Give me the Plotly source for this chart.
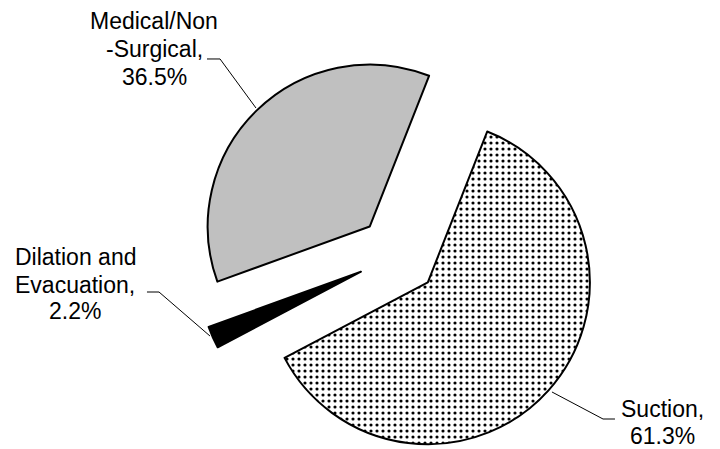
import math
import plotly.graph_objects as go

# data (clockwise from the first slice)
labels = ["Suction", "Dilation and Evacuation", "Medical/Non-Surgical"]
values = [61.3, 2.2, 36.5]
label_lines = [["Suction,", "61.3%"],
               ["Dilation and", "Evacuation,", "2.2%"],
               ["Medical/Non", "-Surgical,", "36.5%"]]

# the page body adds an 8px margin, so the figure is drawn 8px smaller
OFF = 8
W, H = 720 - OFF, 449 - OFF
fills = ["white", "black", "#c0c0c0"]
patterns = [".", "", ""]

# pie geometry (pixels in the final picture)
rotation = 21.5
cx0, cy0 = 397.8, 255.4
radius = 162
explode = 40.3


def px(x, y):
    return (x - OFF) / W, 1 - (y - OFF) / H


total = sum(values)
fig = go.Figure()

start = rotation
for i, v in enumerate(values):
    span = v / total * 360
    mid = math.radians(start + span / 2)
    start += span
    cx = cx0 + explode * math.sin(mid) - OFF
    cy = cy0 - explode * math.cos(mid) - OFF
    colors = ["rgba(0,0,0,0)"] * len(values)
    colors[i] = fills[i]
    widths = [0] * len(values)
    widths[i] = 2
    shapes = [""] * len(values)
    shapes[i] = patterns[i]
    fig.add_trace(go.Pie(
        labels=labels,
        values=values,
        sort=False,
        direction="clockwise",
        rotation=rotation,
        textinfo="none",
        hoverinfo="label+percent",
        showlegend=False,
        marker=dict(
            colors=colors,
            line=dict(color="black", width=widths),
            pattern=dict(shape=shapes, fgcolor="black", size=6, solidity=0.22),
        ),
        domain=dict(
            x=[(cx - radius) / W, (cx + radius) / W],
            y=[1 - (cy + radius) / H, 1 - (cy - radius) / H],
        ),
    ))

# label text, one annotation per line
label_pos = [(662, [409, 436]), (75, [257, 285, 311]), (154, [21, 49, 77])]
for lines, (lx, ys) in zip(label_lines, label_pos):
    for txt, ly in zip(lines, ys):
        ax, ay = px(lx, ly)
        fig.add_annotation(
            x=ax, y=ay, xref="paper", yref="paper",
            text=txt, showarrow=False, xanchor="center", yanchor="middle",
            font=dict(family="Liberation Sans, Arial", size=23, color="black"),
        )

# leader lines
leaders = [
    [(552, 392), (603, 419), (615, 419)],
    [(147, 292), (159, 292), (210, 336)],
    [(207, 59), (220, 59), (256, 108)],
]
for pts in leaders:
    path = "M " + " L ".join("{:.4f},{:.4f}".format(*px(x, y)) for x, y in pts)
    fig.add_shape(type="path", path=path, xref="paper", yref="paper",
                  line=dict(color="black", width=1))

fig.update_layout(
    width=W, height=H,
    margin=dict(l=0, r=0, t=0, b=0),
    paper_bgcolor="white",
    plot_bgcolor="white",
)

fig.write_html("out.html")
